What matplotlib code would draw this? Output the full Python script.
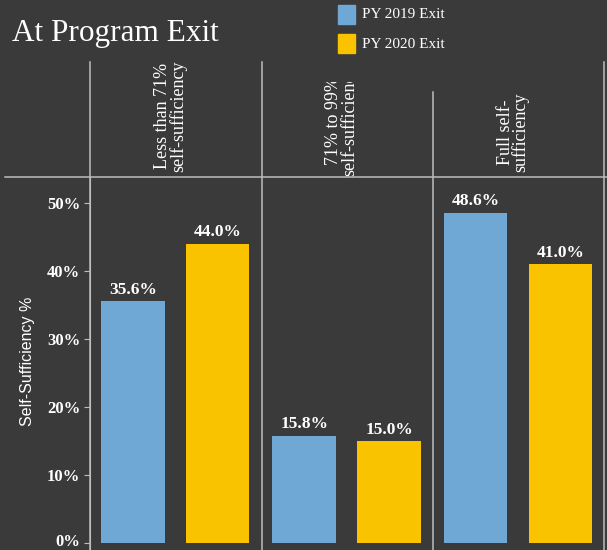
import matplotlib
matplotlib.use("Agg")
import numpy as np
from matplotlib import pyplot as plt
from matplotlib.lines import Line2D
from matplotlib.patches import Rectangle
from matplotlib.transforms import ScaledTranslation

categories = ["Less than 71%\nself-sufficiency", "71% to 99%\nself-sufficiency", "Full self-\nsufficiency"]
series_names = ["PY 2019 Exit", "PY 2020 Exit"]
py2019 = [35.6, 15.8, 48.6]
py2020 = [44.0, 15.0, 41.0]
yticks = [0, 10, 20, 30, 40, 50]

bg = "#3a3a3a"
blue = "#6fa8d5"
yellow = "#f9c300"
linec = "#bdbdbd"
serif = "Liberation Serif"

W, H = 607, 550
fig = plt.figure(figsize=(W / 100, H / 100), dpi=100, facecolor=bg)

def fx(px): return px / W
def fy(py): return 1 - py / H

# main bar axes: x from 90 to 604 px, y from 177 to 550 px
ax = fig.add_axes([fx(90), 0, fx(604) - fx(90), fy(177)])
ax.set_facecolor(bg)
ax.set_xlim(-0.5, 2.5)
ax.set_ylim(-(550 - 543) / 6.8, (543 - 177) / 6.8)

x = np.arange(len(categories))
ax.bar(x - 0.25, py2019, width=0.37, color=blue, zorder=2)
ax.bar(x + 0.245, py2020, width=0.37, color=yellow, zorder=2)
for xi, v in zip(x - 0.25, py2019):
    ax.text(xi, v + 0.5, f"{v:.1f}%", ha="center", va="bottom", color="white",
            fontsize=12.5, family=serif, fontweight="bold")
for xi, v in zip(x + 0.245, py2020):
    ax.text(xi, v + 0.5, f"{v:.1f}%", ha="center", va="bottom", color="white",
            fontsize=12.5, family=serif, fontweight="bold")

for s in ["top", "bottom", "right"]:
    ax.spines[s].set_visible(False)
ax.spines["left"].set_color(linec)
ax.set_xticks([])
ax.set_yticks(yticks)
ax.set_yticklabels([f"{t}%" for t in yticks], family=serif, fontsize=12,
                   color="white", fontweight="bold")
ax.tick_params(axis="y", colors=linec, length=4, labelcolor="white", pad=3)
# lift the 0% label a little so it stays inside the picture
lab0 = ax.get_yticklabels()[0]
lab0.set_transform(lab0.get_transform() + ScaledTranslation(0, 3 / 100, fig.dpi_scale_trans))
ax.set_ylabel("Self-Sufficiency %", color="white", fontsize=11.5, family="Liberation Sans")
ax.yaxis.set_label_coords(-(90 - 35) / 514, (550 - 361) / 373)

# header axes with rotated category labels
hax = fig.add_axes([fx(90), fy(177), fx(604) - fx(90), fy(62) - fy(177)])
hax.set_facecolor(bg)
hax.set_xlim(-0.5, 2.5)
hax.set_ylim(0, 115)
hax.axis("off")
clip_tops = [115, 95, 115]
label_bottoms = [5, 1, 5]
for i, lab in enumerate(categories):
    t = hax.text(i - 0.03, label_bottoms[i], lab, rotation=90, ha="center", va="bottom",
                 color="white", fontsize=13, family=serif, linespacing=0.85, clip_on=True)
    t.set_clip_path(Rectangle((i - 0.5, 0), 1, clip_tops[i], transform=hax.transData))

# divider lines through header and plot
lines = [((90, 90), (62, 550)), ((262, 262), (62, 550)), ((433, 433), (92, 550)),
         ((604, 604), (62, 550)), ((5, 607), (177, 177))]
for (x0, x1), (y0, y1) in lines:
    fig.add_artist(Line2D([fx(x0), fx(x1)], [fy(y0), fy(y1)], color=linec, lw=1.1))

fig.text(fx(12), fy(33), "At Program Exit", color="white", fontsize=22.5, family=serif,
         va="center", ha="left")

# legend
for j, (name, c) in enumerate(zip(series_names, [blue, yellow])):
    fig.add_artist(Rectangle((fx(338), fy(24 + j * 29)), fx(17), fy(5) - fy(24),
                             color=c, transform=fig.transFigure))
    fig.text(fx(362), fy(15 + j * 29), name, color="white", fontsize=11, family=serif,
             va="center", ha="left")

fig.savefig("out.png", dpi=100, facecolor=bg)
